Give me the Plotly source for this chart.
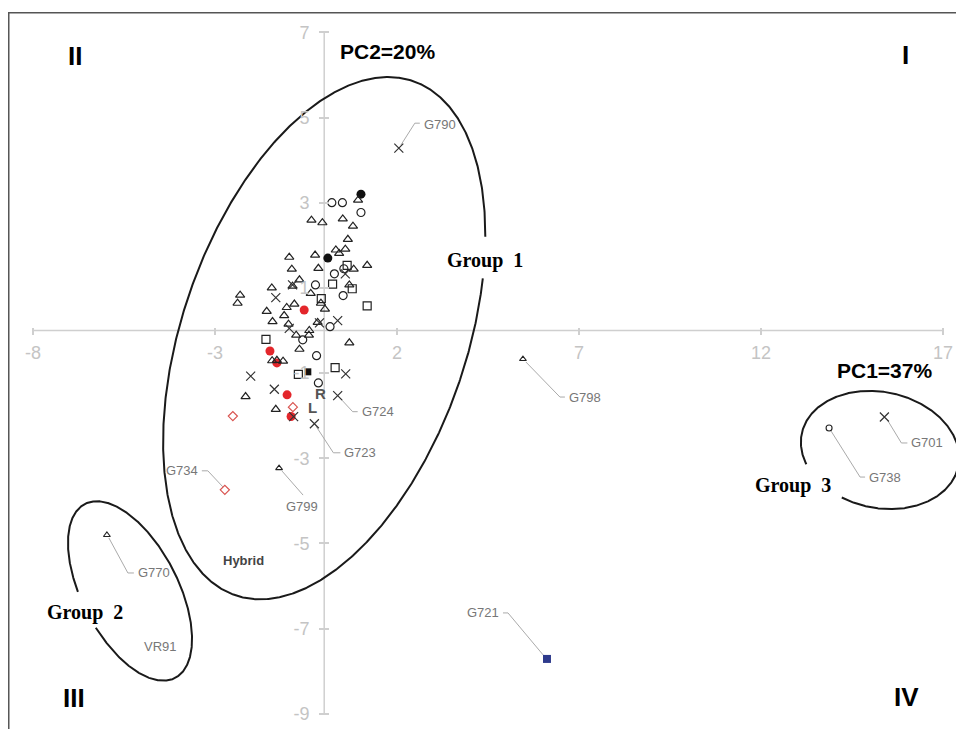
import numpy as np
import plotly.graph_objects as go

# ---------------- data ----------------
tri_x = [0.93, -0.35, -0.05, 0.51, 0.79, 0.65, 0.32, 0.58, 0.41, -0.96, -0.25, -0.89, -0.16, 0.81, 1.18,
         -0.68, -0.87, -1.44, -0.37, -2.31, -2.38, -1.03, -0.82, -1.58, -1.10, -1.42, -0.98, -0.09, 0.02,
         -0.18, 0.69, -0.41, -0.77, -0.42, -0.68, 0.69, -1.43, -1.30, -1.13, -2.16, -1.33]
tri_y = [3.06, 2.59, 2.53, 2.62, 2.45, 2.14, 1.89, 1.91, 1.81, 1.72, 1.77, 1.44, 1.46, 1.44, 1.53,
         1.19, 1.04, 1.00, 0.87, 0.83, 0.64, 0.54, 0.62, 0.45, 0.35, 0.21, 0.15, 0.64, 0.50,
         0.19, 1.07, 0.00, -0.11, -0.11, -0.44, -0.29, -0.71, -0.70, -0.72, -1.55, -1.85]

circ_x = [0.21, 0.50, 1.01, 0.54, 0.28, -0.24, 0.52, 0.16, -0.59, -0.21, -0.16]
circ_y = [3.00, 3.00, 2.77, 1.45, 1.33, 1.07, 0.82, 0.09, -0.22, -0.59, -1.23]

sq_x = [0.63, 0.23, 0.77, -0.08, 1.18, -1.60, -0.71, 0.30]
sq_y = [1.53, 1.09, 0.98, 0.75, 0.58, -0.21, -1.03, -0.87]

cross_x = [0.58, -0.87, -1.33, 0.37, -0.13, -0.96, -2.02, -1.37, 0.59, -0.84]
cross_y = [1.33, 1.07, 0.77, 0.23, 0.18, 0.05, -1.07, -1.38, -1.02, -2.02]

red_dot_x = [-0.55, -1.49, -1.30, -1.02, -0.91]
red_dot_y = [0.48, -0.48, -0.76, -1.51, -2.02]

red_dia_x = [-2.51, -0.86]
red_dia_y = [-2.01, -1.80]

black_dot_x = [1.01, 0.10]
black_dot_y = [3.20, 1.70]

black_sq_x = [-0.45]
black_sq_y = [-0.97]

lab_names = ["G790", "G798", "G701", "G738", "G721", "G770", "G734", "G799", "G723", "G724"]
lab_x = [2.05, 5.46, 15.39, 13.87, 6.12, -5.97, -2.73, -1.24, -0.27, 0.37]
lab_y = [4.28, -0.67, -2.03, -2.29, -7.71, -4.80, -3.74, -3.23, -2.19, -1.53]
lab_kind = ["cross", "tri", "cross", "circ", "blue_sq", "tri", "red_dia", "tri", "cross", "cross"]

x_tick_vals = [-8, -3, 2, 7, 12, 17]
y_tick_vals = [-9, -7, -5, -3, -1, 1, 3, 5, 7]

# ---------------- layout geometry ----------------
# the page body adds an 8px margin, so the figure is 16px smaller than the window
W, H = 956, 721
ML, MR, MT, MB = 0, 0, 4, 0
XMIN, XMAX = -8.687, 17.577
YMIN, YMAX = -9.355, 7.477
PW, PH = W - ML - MR, H - MT - MB
PX_X = PW / (XMAX - XMIN)
PX_Y = PH / (YMAX - YMIN)

SANS = "Liberation Sans Narrow, Arial Narrow, Liberation Sans, Arial, sans-serif"
SANS_B = "Liberation Sans, Arial, sans-serif"
SERIF = "Liberation Serif, Times New Roman, serif"

# label style: leader offsets (px, y down), label offset (px), anchor
label_style = {
    "G790": ([(2, -3), (16, -25), (21, -25)], (23, -24), "left"),
    "G798": ([(3, 3), (37, 38), (42, 38)], (44, 38), "left"),
    "G701": ([(3, 3), (17, 26), (23, 26)], (25, 26), "left"),
    "G738": ([(2, 3), (31, 49), (36, 49)], (38, 49), "left"),
    "G721": ([(-3, -3), (-39, -46), (-44, -46)], (-46, -46), "right"),
    "G770": ([(2, 3), (21, 38), (27, 38)], (29, 38), "left"),
    "G734": ([(-2, -3), (-17, -19), (-23, -19)], (-25, -19), "right"),
    "G799": ([(3, 3), (24, 27)], (23, 38), "center"),
    "G723": ([(2, 3), (19, 29), (26, 29)], (28, 29), "left"),
    "G724": ([(2, 2), (15, 16), (20, 16)], (22, 16), "left"),
}

fig = go.Figure()


def ellipse(cx, cy, a, b, theta, gap):
    t = np.linspace(0, 2 * np.pi, 900)
    th = np.radians(theta)
    u = a * np.cos(t) * np.cos(th) - b * np.sin(t) * np.sin(th)
    v = a * np.cos(t) * np.sin(th) + b * np.sin(t) * np.cos(th)
    ang = np.degrees(np.arctan2(v, u)) % 360
    x = cx + u / PX_X
    y = cy + v / PX_Y
    m = (ang > gap[0]) & (ang < gap[1])
    x[m] = np.nan
    y[m] = np.nan
    idx = int(np.argmax(m)) if m.any() else 0
    x = np.roll(x, -idx)
    y = np.roll(y, -idx)
    return x, y


for (cx, cy, a, b, th, gap) in [
    (0.0, -0.18, 272, 142, 70.85, (21, 32)),
    (-5.335, -6.115, 98, 48, -62.6, (181, 227)),
    (15.27, -2.805, 80, 58, -12, (191, 231)),
]:
    ex, ey = ellipse(cx, cy, a, b, th, gap)
    fig.add_trace(go.Scatter(x=ex, y=ey, mode="lines", line=dict(color="#1a1a1a", width=2),
                             hoverinfo="skip", showlegend=False))

# leader lines
for n, px, py in zip(lab_names, lab_x, lab_y):
    pts = label_style[n][0]
    lx = [px + dx / PX_X for dx, dy in pts]
    ly = [py - dy / PX_Y for dx, dy in pts]
    fig.add_trace(go.Scatter(x=lx, y=ly, mode="lines", line=dict(color="#aaaaaa", width=1),
                             hoverinfo="skip", showlegend=False))


def pick(kind):
    xs = [x for x, k in zip(lab_x, lab_kind) if k == kind]
    ys = [y for y, k in zip(lab_y, lab_kind) if k == kind]
    return xs, ys


def add_markers(x, y, symbol, size, color, lw=1.1, lc=None):
    fig.add_trace(go.Scatter(
        x=x, y=y, mode="markers", showlegend=False,
        marker=dict(symbol=symbol, size=size, color=color,
                    line=dict(color=lc if lc else color, width=lw))))


add_markers(red_dot_x, red_dot_y, "circle", 9, "#e3262b", 0)
add_markers(black_dot_x, black_dot_y, "circle", 9, "#111111", 0)
add_markers(black_sq_x, black_sq_y, "square", 7, "#111111", 0)
add_markers(tri_x, tri_y, "triangle-up-open", 8, "#222222", 1.2)
add_markers(circ_x, circ_y, "circle-open", 8, "#222222", 1.2)
add_markers(sq_x, sq_y, "square-open", 8, "#222222", 1.2)
add_markers(cross_x, cross_y, "x-thin-open", 9, "#333333", 1.2)
add_markers(red_dia_x, red_dia_y, "diamond-open", 7, "#d9534f", 1.2)

tx, ty = pick("tri")
add_markers(tx, ty, "triangle-up-open", 6, "#222222")
tx, ty = pick("circ")
add_markers(tx, ty, "circle-open", 6, "#222222")
tx, ty = pick("cross")
add_markers(tx, ty, "x-thin-open", 9, "#333333", 1.2)
tx, ty = pick("red_dia")
add_markers(tx, ty, "diamond-open", 7, "#d9534f", 1.2)
tx, ty = pick("blue_sq")
add_markers(tx, ty, "square", 8, "#2e3a8c", 0)

annotations = []
for n, px, py in zip(lab_names, lab_x, lab_y):
    _, (ox, oy), anc = label_style[n]
    annotations.append(dict(x=px, y=py, xref="x", yref="y", text=n, showarrow=False,
                            xshift=ox, yshift=-oy, xanchor=anc, yanchor="middle",
                            font=dict(family=SANS, size=13, color="#777777")))


def txt(x, y, s, size, family, color="#000000", bold=False):
    annotations.append(dict(x=x, y=y, xref="x", yref="y", text=("<b>%s</b>" % s) if bold else s,
                            showarrow=False, xanchor="center", yanchor="middle",
                            font=dict(family=family, size=size, color=color)))


txt(1.75, 6.54, "PC2=20%", 21, SANS_B, bold=True)
txt(15.38, -0.95, "PC1=37%", 21, SANS_B, bold=True)
txt(-6.845, 6.44, "II", 26, SANS_B, bold=True)
txt(15.98, 6.47, "I", 26, SANS_B, bold=True)
txt(-6.87, -8.63, "III", 26, SANS_B, bold=True)
txt(16.01, -8.60, "IV", 26, SANS_B, bold=True)
txt(4.42, 1.65, "Group\u00a0\u00a01", 20, SERIF, bold=True)
txt(-6.57, -6.61, "Group\u00a0\u00a02", 20, SERIF, bold=True)
txt(12.88, -3.63, "Group\u00a0\u00a03", 20, SERIF, bold=True)
txt(-2.23, -5.39, "Hybrid", 13, SANS, "#444444", bold=True)
txt(-0.115, -1.47, "R", 15, SANS_B, "#555555", bold=True)
txt(-0.335, -1.80, "L", 15, SANS_B, "#555555", bold=True)
txt(-4.51, -7.41, "VR91", 13, SANS, "#777777")

shapes = [
    dict(type="line", xref="x", yref="y", x0=x_tick_vals[0], x1=x_tick_vals[-1], y0=0, y1=0,
         line=dict(color="#cfcfcf", width=1.5), layer="below"),
    dict(type="line", xref="x", yref="y", x0=0, x1=0, y0=y_tick_vals[0], y1=y_tick_vals[-1],
         line=dict(color="#cfcfcf", width=1.5), layer="below"),
    dict(type="line", xref="paper", yref="paper", x0=0.0008, x1=0.0008, y0=-0.05, y1=1,
         line=dict(color="#555555", width=1.5)),
    dict(type="line", xref="paper", yref="paper", x0=0, x1=1.05, y0=0.999, y1=0.999,
         line=dict(color="#555555", width=1.5)),
]

TICK_C = "#cfcfcf"
TLAB_C = "#c4c4c4"
fig.update_layout(
    width=W, height=H, margin=dict(l=ML, r=MR, t=MT, b=MB),
    paper_bgcolor="white", plot_bgcolor="white",
    showlegend=False, annotations=annotations, shapes=shapes,
    xaxis=dict(range=[XMIN, XMAX], showgrid=False, zeroline=False, showline=False,
               tickmode="array", tickvals=x_tick_vals, ticktext=[str(v) for v in x_tick_vals],
               ticks="outside", ticklen=7, tickwidth=1.5, tickcolor=TICK_C,
               tickfont=dict(family=SANS, size=18, color=TLAB_C),
               anchor="free", position=(0 - YMIN) / (YMAX - YMIN) + 3.5 / PH,
               ticklabelstandoff=2),
    yaxis=dict(range=[YMIN, YMAX], showgrid=False, zeroline=False, showline=False,
               tickmode="array", tickvals=y_tick_vals, ticktext=[str(v) for v in y_tick_vals],
               ticks="outside", ticklen=10, tickwidth=1.5, tickcolor=TICK_C,
               tickfont=dict(family=SANS, size=18, color=TLAB_C),
               anchor="free", position=(0 - XMIN) / (XMAX - XMIN) + 5 / PW,
               ticklabelstandoff=6),
)

fig.write_html("out.html")
